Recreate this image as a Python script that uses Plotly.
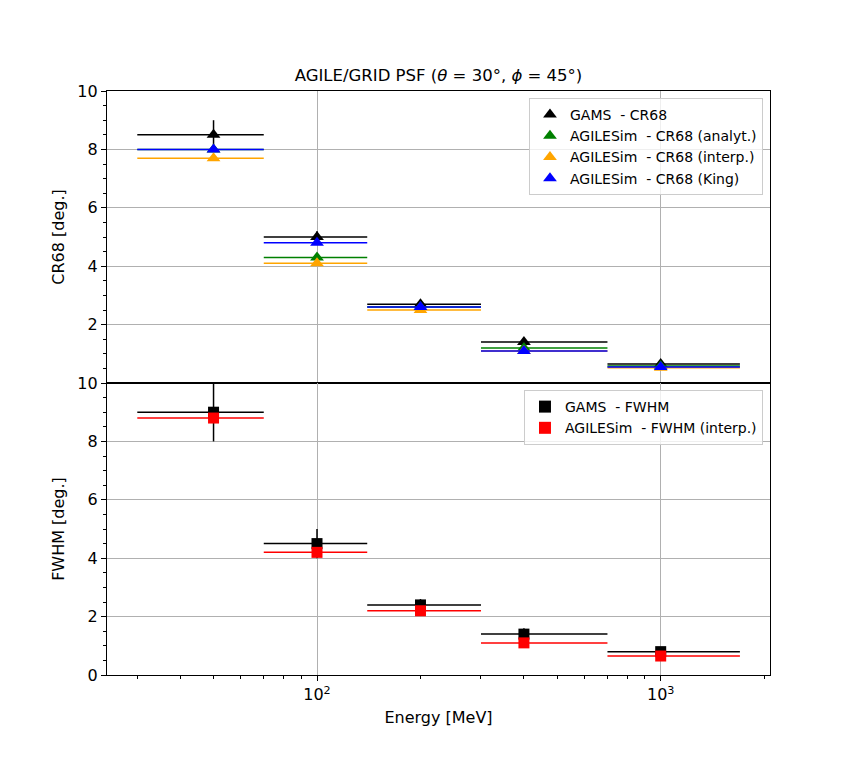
import plotly.graph_objects as go
from plotly.subplots import make_subplots

# energy bins [MeV]
energy = [50, 100, 200, 400, 1000]
e_low = [30, 70, 140, 300, 700]
e_high = [70, 140, 300, 700, 1700]

# CR68 [deg.]
cr68_gams = [8.5, 5.0, 2.7, 1.4, 0.65]
cr68_gams_err = [0.5, 0.2, 0.1, 0.1, 0.05]
cr68_analyt = [8.0, 4.3, 2.6, 1.2, 0.58]
cr68_interp = [7.7, 4.1, 2.5, 1.1, 0.52]
cr68_king = [8.0, 4.8, 2.6, 1.1, 0.55]

# FWHM [deg.]
fwhm_gams = [9.0, 4.5, 2.4, 1.4, 0.8]
fwhm_gams_err = [1.0, 0.5, 0.2, 0.2, 0.1]
fwhm_interp = [8.8, 4.2, 2.2, 1.1, 0.65]

x_tickvals = [100, 1000]
x_ticktext = ["10<sup>2</sup>", "10<sup>3</sup>"]
x_minor_ticks = [30, 40, 50, 60, 70, 80, 90, 200, 300, 400, 500, 600, 700, 800, 900, 2000]

xminus = [e - lo for e, lo in zip(energy, e_low)]
xplus = [hi - e for e, hi in zip(energy, e_high)]

font = "DejaVu Sans, sans-serif"
nb = "\u00a0"

fig = make_subplots(rows=2, cols=1, shared_xaxes=True, vertical_spacing=0)


def add_series(y, name, color, symbol, row, legend, yerr=None):
    ex = dict(type="data", symmetric=False, array=xplus, arrayminus=xminus,
              color=color, thickness=1.5, width=0)
    ey = None
    if yerr is not None:
        ey = dict(type="data", array=yerr, color=color, thickness=1.5, width=0)
    fig.add_trace(go.Scatter(
        x=energy, y=y, mode="markers", name=name, legend=legend,
        marker=dict(symbol=symbol, color=color, size=12 if symbol == "triangle-up" else 11),
        error_x=ex, error_y=ey), row=row, col=1)


add_series(cr68_gams, "GAMS" + nb * 2 + "- CR68", "black", "triangle-up", 1, "legend", cr68_gams_err)
add_series(cr68_analyt, "AGILESim" + nb * 2 + "- CR68 (analyt.)", "green", "triangle-up", 1, "legend")
add_series(cr68_interp, "AGILESim" + nb * 2 + "- CR68 (interp.)", "orange", "triangle-up", 1, "legend")
add_series(cr68_king, "AGILESim" + nb * 2 + "- CR68 (King)", "blue", "triangle-up", 1, "legend")

add_series(fwhm_gams, "GAMS" + nb * 2 + "- FWHM", "black", "square", 2, "legend2", fwhm_gams_err)
add_series(fwhm_interp, "AGILESim" + nb * 2 + "- FWHM (interp.)", "red", "square", 2, "legend2")

axis_common = dict(showline=True, linecolor="black", linewidth=1.2, mirror=True,
                   showgrid=True, gridcolor="#b0b0b0", gridwidth=1,
                   zeroline=False, tickfont=dict(size=16, color="black"))
title_font = dict(size=16, color="black")

fig.update_xaxes(type="log", range=[1.389, 3.318], tickvals=x_tickvals, ticktext=x_ticktext,
                 **axis_common)
fig.update_xaxes(ticks="", showticklabels=False, row=1, col=1)
fig.update_xaxes(ticks="outside", ticklen=5, tickwidth=1.2, tickcolor="black",
                 minor=dict(ticks="outside", ticklen=3, tickwidth=1, tickcolor="black",
                            tickvals=x_minor_ticks, showgrid=False),
                 title=dict(text="Energy [MeV]", font=title_font, standoff=8),
                 row=2, col=1)

fig.update_yaxes(range=[0, 10], dtick=2, ticks="outside", ticklen=5, tickwidth=1.2,
                 tickcolor="black",
                 minor=dict(ticks="outside", ticklen=3, tickwidth=1, tickcolor="black",
                            dtick=0.5, showgrid=False),
                 **axis_common)
fig.update_yaxes(tickvals=[2, 4, 6, 8, 10],
                 title=dict(text="CR68 [deg.]", font=title_font, standoff=8),
                 row=1, col=1)
fig.update_yaxes(title=dict(text="FWHM [deg.]", font=title_font, standoff=8),
                 row=2, col=1)

legend_style = dict(xanchor="right", yanchor="top",
                    bgcolor="rgba(255,255,255,0.8)", bordercolor="#cccccc", borderwidth=1,
                    font=dict(size=14), tracegroupgap=0, itemsizing="constant")

fig.update_layout(
    width=839, height=742,
    margin=dict(l=99, r=77, t=83, b=75),
    paper_bgcolor="white", plot_bgcolor="white",
    font=dict(family=font, color="black"),
    title=dict(text="AGILE/GRID PSF (<i>θ</i> = 30°, <i>ϕ</i> = 45°)",
               x=(99 + 331.5) / 839, xanchor="center", y=(742 - 77) / 742, yanchor="bottom",
               pad=dict(b=4), font=dict(size=16.5, color="black")),
    legend=dict(x=0.9894, y=0.988, **legend_style),
    legend2=dict(x=0.9894, y=0.488, **legend_style),
)

fig.write_html("out.html")
